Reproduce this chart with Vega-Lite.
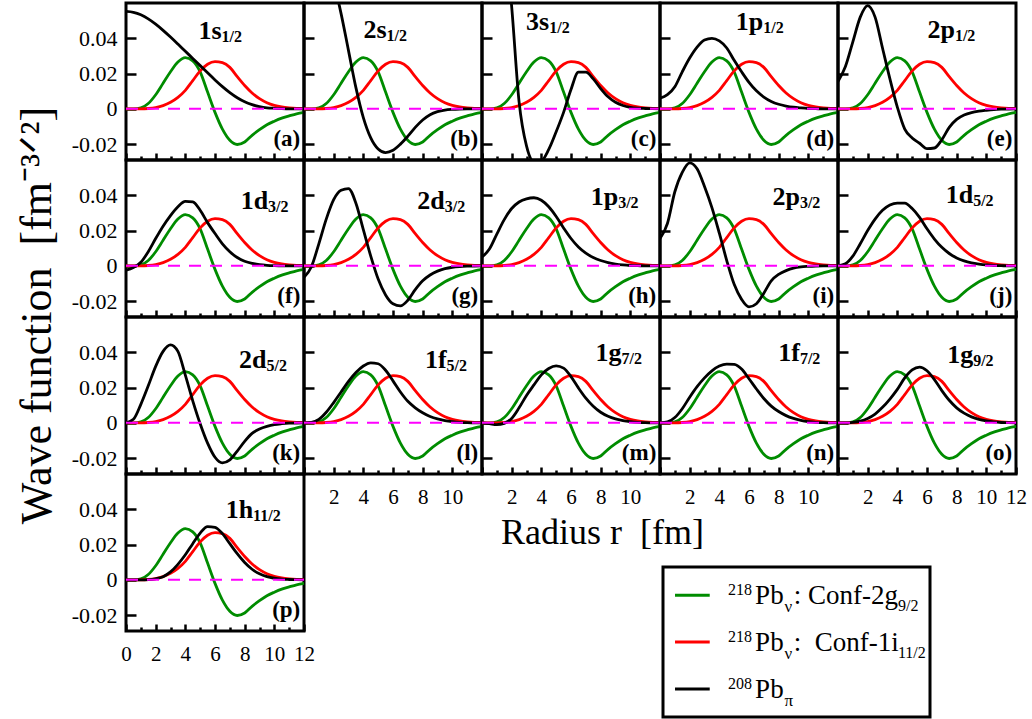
{
"padding":{"left":13,"top":1,"right":2,"bottom":2},
"config":{"font":"Liberation Serif, Times New Roman, Times, serif","view":{"stroke":"#000000","strokeWidth":3},
"axis":{"domain":false,"grid":false,"tickColor":"#000000","tickWidth":2.5,"labelColor":"#000000","labelFont":"Liberation Serif, Times New Roman, Times, serif","titleColor":"#000000","titleFont":"Liberation Serif, Times New Roman, Times, serif","titleFontWeight":"normal"},
"axisX":{"labelFontSize":21},"axisY":{"labelFontSize":22},
"line":{"strokeWidth":2.8,"interpolate":"monotone"},
"text":{"baseline":"alphabetic","color":"#000000","font":"Liberation Serif, Times New Roman, Times, serif"}},
"datasets":{
"wf":[
{"r":0,"G":0,"R":0,"a":0.0552,"b":0.105,"c":0.15,"d":0.006,"e":0.0155,"f":-0.0025,"g":-0.0065,"h":0.005,"i":0.0155,"j":0,"k":0,"l":0,"m":0,"n":0,"o":0,"p":0},
{"r":0.5,"G":0,"R":0,"a":0.0547,"b":0.103,"c":0.145,"d":0.008,"e":0.024,"f":-0.001,"g":-0.0005,"h":0.0095,"i":0.024,"j":0.0012,"k":0.002,"l":0.0003,"m":-0.0005,"n":0.0005,"o":0,"p":0},
{"r":1,"G":0.0005,"R":0,"a":0.0533,"b":0.097,"c":0.13,"d":0.0125,"e":0.038,"f":0.002,"g":0.0125,"h":0.018,"i":0.042,"j":0.0055,"k":0.0105,"l":0.002,"m":-0.001,"n":0.003,"o":0.0003,"p":0},
{"r":1.5,"G":0.003,"R":0.0002,"a":0.051,"b":0.087,"c":0.1,"d":0.021,"e":0.052,"f":0.008,"g":0.0265,"h":0.0262,"i":0.053,"j":0.0125,"k":0.021,"l":0.006,"m":-0.0003,"n":0.008,"o":0.001,"p":0.0001},
{"r":2,"G":0.008,"R":0.0007,"a":0.048,"b":0.072,"c":0.058,"d":0.0288,"e":0.0585,"f":0.0155,"g":0.0375,"h":0.0325,"i":0.0584,"j":0.02,"k":0.032,"l":0.0115,"m":0.0025,"n":0.0145,"o":0.0025,"p":0.0006},
{"r":2.5,"G":0.0145,"R":0.0018,"a":0.0445,"b":0.054,"c":0.004,"d":0.035,"e":0.052,"f":0.0225,"g":0.0428,"h":0.0362,"i":0.055,"j":0.0265,"k":0.0405,"l":0.0175,"m":0.0085,"n":0.0205,"o":0.005,"p":0.0018},
{"r":3,"G":0.021,"R":0.0037,"a":0.0407,"b":0.033,"c":-0.021,"d":0.039,"e":0.0345,"f":0.0285,"g":0.0438,"h":0.038,"i":0.045,"j":0.0315,"k":0.0442,"l":0.0235,"m":0.0155,"n":0.0255,"o":0.0088,"p":0.0045},
{"r":3.5,"G":0.0265,"R":0.0065,"a":0.0367,"b":0.012,"c":-0.03,"d":0.04,"e":0.017,"f":0.0335,"g":0.0355,"h":0.0386,"i":0.033,"j":0.0345,"k":0.0405,"l":0.0285,"m":0.0215,"n":0.0295,"o":0.0135,"p":0.0088},
{"r":4,"G":0.029,"R":0.0105,"a":0.0326,"b":-0.005,"c":-0.0295,"d":0.0385,"e":0.001,"f":0.0365,"g":0.0205,"h":0.0372,"i":0.0185,"j":0.0356,"k":0.027,"l":0.0322,"m":0.0272,"n":0.0322,"o":0.019,"p":0.0142},
{"r":4.5,"G":0.0272,"R":0.016,"a":0.0286,"b":-0.0165,"c":-0.023,"d":0.0345,"e":-0.0115,"f":0.0362,"g":0.0055,"h":0.0335,"i":0.003,"j":0.0355,"k":0.0125,"l":0.034,"m":0.0308,"n":0.0333,"o":0.0255,"p":0.0205},
{"r":5,"G":0.021,"R":0.0215,"a":0.0245,"b":-0.0228,"c":-0.013,"d":0.0275,"e":-0.0165,"f":0.0315,"g":-0.0075,"h":0.028,"i":-0.0105,"j":0.0325,"k":-0.0005,"l":0.0335,"m":0.0323,"n":0.0331,"o":0.03,"p":0.0265},
{"r":5.5,"G":0.0095,"R":0.0253,"a":0.0204,"b":-0.0248,"c":-0.002,"d":0.021,"e":-0.0195,"f":0.0245,"g":-0.0165,"h":0.0215,"i":-0.019,"j":0.0275,"k":-0.0115,"l":0.0298,"m":0.031,"n":0.0305,"o":0.0316,"p":0.0302},
{"r":6,"G":-0.002,"R":0.0268,"a":0.0164,"b":-0.0235,"c":0.011,"d":0.015,"e":-0.0225,"f":0.0183,"g":-0.0215,"h":0.0155,"i":-0.0233,"j":0.021,"k":-0.0195,"l":0.0238,"m":0.0262,"n":0.025,"o":0.0295,"p":0.0298},
{"r":6.5,"G":-0.0115,"R":0.0262,"a":0.0126,"b":-0.02,"c":0.0208,"d":0.0102,"e":-0.0222,"f":0.0125,"g":-0.0227,"h":0.0107,"i":-0.0215,"j":0.0152,"k":-0.0227,"l":0.0175,"m":0.0198,"n":0.0192,"o":0.0245,"p":0.0262},
{"r":7,"G":-0.0178,"R":0.0235,"a":0.0092,"b":-0.0155,"c":0.0208,"d":0.0067,"e":-0.0175,"f":0.008,"g":-0.0195,"h":0.0072,"i":-0.0155,"j":0.0105,"k":-0.021,"l":0.0122,"m":0.014,"n":0.0138,"o":0.0183,"p":0.0205},
{"r":7.5,"G":-0.0202,"R":0.0182,"a":0.0063,"b":-0.0105,"c":0.017,"d":0.0042,"e":-0.0105,"f":0.0047,"g":-0.0135,"h":0.0047,"i":-0.0085,"j":0.007,"k":-0.016,"l":0.0085,"m":0.0094,"n":0.0095,"o":0.0128,"p":0.0148},
{"r":8,"G":-0.0188,"R":0.0132,"a":0.004,"b":-0.0063,"c":0.0115,"d":0.0026,"e":-0.006,"f":0.0026,"g":-0.0085,"h":0.003,"i":-0.0048,"j":0.0045,"k":-0.0105,"l":0.0057,"m":0.006,"n":0.0064,"o":0.0085,"p":0.0098},
{"r":8.5,"G":-0.015,"R":0.009,"a":0.0024,"b":-0.0033,"c":0.0068,"d":0.0016,"e":-0.0035,"f":0.0014,"g":-0.0052,"h":0.0018,"i":-0.0027,"j":0.0028,"k":-0.006,"l":0.0036,"m":0.0037,"n":0.0041,"o":0.0055,"p":0.006},
{"r":9,"G":-0.0118,"R":0.0058,"a":0.0013,"b":-0.0016,"c":0.0037,"d":0.0009,"e":-0.0021,"f":0.0007,"g":-0.003,"h":0.001,"i":-0.0013,"j":0.0017,"k":-0.0035,"l":0.0022,"m":0.0022,"n":0.0025,"o":0.0034,"p":0.0034},
{"r":9.5,"G":-0.009,"R":0.0035,"a":0.0006,"b":-0.0007,"c":0.0019,"d":0.0005,"e":-0.0013,"f":0.0003,"g":-0.0016,"h":0.0005,"i":-0.0006,"j":0.001,"k":-0.002,"l":0.0013,"m":0.0013,"n":0.0014,"o":0.002,"p":0.0018},
{"r":10,"G":-0.007,"R":0.002,"a":0.0003,"b":-0.0003,"c":0.0009,"d":0.0002,"e":-0.0008,"f":0.0001,"g":-0.0008,"h":0.0002,"i":-0.0003,"j":0.0005,"k":-0.001,"l":0.0007,"m":0.0007,"n":0.0007,"o":0.0011,"p":0.0009},
{"r":10.5,"G":-0.0053,"R":0.0011,"a":0.0001,"b":-0.0001,"c":0.0004,"d":0.0001,"e":-0.0004,"f":0,"g":-0.0004,"h":0.0001,"i":-0.0001,"j":0.0002,"k":-0.0005,"l":0.0003,"m":0.0003,"n":0.0003,"o":0.0005,"p":0.0004},
{"r":11,"G":-0.004,"R":0.0006,"a":0,"b":0,"c":0.0002,"d":0,"e":-0.0002,"f":0,"g":-0.0002,"h":0,"i":0,"j":0.0001,"k":-0.0002,"l":0.0001,"m":0.0001,"n":0.0001,"o":0.0002,"p":0.0002},
{"r":11.5,"G":-0.0028,"R":0.0003,"a":0,"b":0,"c":0.0001,"d":0,"e":-0.0001,"f":0,"g":-0.0001,"h":0,"i":0,"j":0,"k":-0.0001,"l":0,"m":0,"n":0,"o":0.0001,"p":0.0001},
{"r":12,"G":-0.002,"R":0.0002,"a":0,"b":0,"c":0,"d":0,"e":0,"f":0,"g":0,"h":0,"i":0,"j":0,"k":0,"l":0,"m":0,"n":0,"o":0,"p":0}
],
"leg":[
{"k":"g","sup":"218","pb":"Pb","s1":"ν","mid":": Conf-2g","s2":"9/2"},
{"k":"r","sup":"218","pb":"Pb","s1":"ν","mid":":\u00a0 Conf-1i","s2":"11/2"},
{"k":"b","sup":"208","pb":"Pb","s1":"π","mid":"","s2":""}
]},
"spacing":157,"bounds":"flush",
"vconcat":[
{"spacing":0,"bounds":"flush","hconcat":[
{"width":178,"height":157,"data":{"name":"wf"},"encoding":{"x":{"field":"r","type":"quantitative","scale":{"domain":[0,12],"nice":false,"zero":false},"axis":{"values":[0,1,2,3,4,5,6,7,8,9,10,11,12],"labels":false,"title":null,"tickSize":{"condition":{"test":"datum.value % 2 == 0","value":-7},"value":-4}}}},"layer":[
{"mark":{"type":"line","color":"#008c00"},"encoding":{"y":{"field":"G","type":"quantitative","scale":{"domain":[-0.029,0.06],"nice":false,"zero":false},"axis":{"values":[-0.02,-0.01,0,0.01,0.02,0.03,0.04,0.05],"labelExpr":"abs(datum.value) < 0.001 ? '0' : (round(datum.value*100) % 2 == 0 ? replace(format(datum.value, '.2f'), '\u2212', '-') : '')","labelFont":"Liberation Serif","labelOverlap":false,"labelPadding":19,"title":null,"tickSize":{"condition":{"test":"round(datum.value*100) % 2 == 0","value":-10},"value":-6}}}}},
{"mark":{"type":"line","color":"#ff0000"},"encoding":{"y":{"field":"R","type":"quantitative"}}},
{"mark":{"type":"line","color":"#000000","clip":true},"encoding":{"y":{"field":"a","type":"quantitative"}}},
{"transform":[{"filter":"datum.r == 0"}],"mark":{"type":"rule","color":"#ff00ff","strokeDash":[12,9],"strokeWidth":2},"encoding":{"x":{"datum":0},"x2":{"datum":12},"y":{"datum":0}}},
{"transform":[{"filter":"datum.r == 0"}],"mark":{"type":"text","align":"right","fontWeight":"bold","fontSize":26},"encoding":{"x":{"datum":6.44},"y":{"datum":0.0394},"text":{"value":"1s"}}},
{"transform":[{"filter":"datum.r == 0"}],"mark":{"type":"text","align":"left","fontWeight":"bold","fontSize":16,"dy":3},"encoding":{"x":{"datum":6.44},"y":{"datum":0.0394},"text":{"value":"1/2"}}},
{"transform":[{"filter":"datum.r == 0"}],"mark":{"type":"text","align":"right","fontWeight":"bold","fontSize":23},"encoding":{"x":{"datum":11.75},"y":{"datum":-0.0208},"text":{"value":"(a)"}}}]},
{"width":178,"height":157,"data":{"name":"wf"},"encoding":{"x":{"field":"r","type":"quantitative","scale":{"domain":[0,12],"nice":false,"zero":false},"axis":{"values":[0,1,2,3,4,5,6,7,8,9,10,11,12],"labels":false,"title":null,"tickSize":{"condition":{"test":"datum.value % 2 == 0","value":-7},"value":-4}}}},"layer":[
{"mark":{"type":"line","color":"#008c00"},"encoding":{"y":{"field":"G","type":"quantitative","scale":{"domain":[-0.029,0.06],"nice":false,"zero":false},"axis":{"values":[-0.02,-0.01,0,0.01,0.02,0.03,0.04,0.05],"labels":false,"title":null,"tickSize":{"condition":{"test":"round(datum.value*100) % 2 == 0","value":-10},"value":-6}}}}},
{"mark":{"type":"line","color":"#ff0000"},"encoding":{"y":{"field":"R","type":"quantitative"}}},
{"mark":{"type":"line","color":"#000000","clip":true},"encoding":{"y":{"field":"b","type":"quantitative"}}},
{"transform":[{"filter":"datum.r == 0"}],"mark":{"type":"rule","color":"#ff00ff","strokeDash":[12,9],"strokeWidth":2},"encoding":{"x":{"datum":0},"x2":{"datum":12},"y":{"datum":0}}},
{"transform":[{"filter":"datum.r == 0"}],"mark":{"type":"text","align":"right","fontWeight":"bold","fontSize":26},"encoding":{"x":{"datum":5.57},"y":{"datum":0.04},"text":{"value":"2s"}}},
{"transform":[{"filter":"datum.r == 0"}],"mark":{"type":"text","align":"left","fontWeight":"bold","fontSize":16,"dy":3},"encoding":{"x":{"datum":5.57},"y":{"datum":0.04},"text":{"value":"1/2"}}},
{"transform":[{"filter":"datum.r == 0"}],"mark":{"type":"text","align":"right","fontWeight":"bold","fontSize":23},"encoding":{"x":{"datum":11.75},"y":{"datum":-0.0208},"text":{"value":"(b)"}}}]},
{"width":178,"height":157,"data":{"name":"wf"},"encoding":{"x":{"field":"r","type":"quantitative","scale":{"domain":[0,12],"nice":false,"zero":false},"axis":{"values":[0,1,2,3,4,5,6,7,8,9,10,11,12],"labels":false,"title":null,"tickSize":{"condition":{"test":"datum.value % 2 == 0","value":-7},"value":-4}}}},"layer":[
{"mark":{"type":"line","color":"#008c00"},"encoding":{"y":{"field":"G","type":"quantitative","scale":{"domain":[-0.029,0.06],"nice":false,"zero":false},"axis":{"values":[-0.02,-0.01,0,0.01,0.02,0.03,0.04,0.05],"labels":false,"title":null,"tickSize":{"condition":{"test":"round(datum.value*100) % 2 == 0","value":-10},"value":-6}}}}},
{"mark":{"type":"line","color":"#ff0000"},"encoding":{"y":{"field":"R","type":"quantitative"}}},
{"mark":{"type":"line","color":"#000000","clip":true},"encoding":{"y":{"field":"c","type":"quantitative"}}},
{"transform":[{"filter":"datum.r == 0"}],"mark":{"type":"rule","color":"#ff00ff","strokeDash":[12,9],"strokeWidth":2},"encoding":{"x":{"datum":0},"x2":{"datum":12},"y":{"datum":0}}},
{"transform":[{"filter":"datum.r == 0"}],"mark":{"type":"text","align":"right","fontWeight":"bold","fontSize":26},"encoding":{"x":{"datum":4.53},"y":{"datum":0.0445},"text":{"value":"3s"}}},
{"transform":[{"filter":"datum.r == 0"}],"mark":{"type":"text","align":"left","fontWeight":"bold","fontSize":16,"dy":3},"encoding":{"x":{"datum":4.53},"y":{"datum":0.0445},"text":{"value":"1/2"}}},
{"transform":[{"filter":"datum.r == 0"}],"mark":{"type":"text","align":"right","fontWeight":"bold","fontSize":23},"encoding":{"x":{"datum":11.75},"y":{"datum":-0.0208},"text":{"value":"(c)"}}}]},
{"width":178,"height":157,"data":{"name":"wf"},"encoding":{"x":{"field":"r","type":"quantitative","scale":{"domain":[0,12],"nice":false,"zero":false},"axis":{"values":[0,1,2,3,4,5,6,7,8,9,10,11,12],"labels":false,"title":null,"tickSize":{"condition":{"test":"datum.value % 2 == 0","value":-7},"value":-4}}}},"layer":[
{"mark":{"type":"line","color":"#008c00"},"encoding":{"y":{"field":"G","type":"quantitative","scale":{"domain":[-0.029,0.06],"nice":false,"zero":false},"axis":{"values":[-0.02,-0.01,0,0.01,0.02,0.03,0.04,0.05],"labels":false,"title":null,"tickSize":{"condition":{"test":"round(datum.value*100) % 2 == 0","value":-10},"value":-6}}}}},
{"mark":{"type":"line","color":"#ff0000"},"encoding":{"y":{"field":"R","type":"quantitative"}}},
{"mark":{"type":"line","color":"#000000","clip":true},"encoding":{"y":{"field":"d","type":"quantitative"}}},
{"transform":[{"filter":"datum.r == 0"}],"mark":{"type":"rule","color":"#ff00ff","strokeDash":[12,9],"strokeWidth":2},"encoding":{"x":{"datum":0},"x2":{"datum":12},"y":{"datum":0}}},
{"transform":[{"filter":"datum.r == 0"}],"mark":{"type":"text","align":"right","fontWeight":"bold","fontSize":26},"encoding":{"x":{"datum":6.96},"y":{"datum":0.0445},"text":{"value":"1p"}}},
{"transform":[{"filter":"datum.r == 0"}],"mark":{"type":"text","align":"left","fontWeight":"bold","fontSize":16,"dy":3},"encoding":{"x":{"datum":6.96},"y":{"datum":0.0445},"text":{"value":"1/2"}}},
{"transform":[{"filter":"datum.r == 0"}],"mark":{"type":"text","align":"right","fontWeight":"bold","fontSize":23},"encoding":{"x":{"datum":11.75},"y":{"datum":-0.0208},"text":{"value":"(d)"}}}]},
{"width":178,"height":157,"data":{"name":"wf"},"encoding":{"x":{"field":"r","type":"quantitative","scale":{"domain":[0,12],"nice":false,"zero":false},"axis":{"values":[0,1,2,3,4,5,6,7,8,9,10,11,12],"labels":false,"title":null,"tickSize":{"condition":{"test":"datum.value % 2 == 0","value":-7},"value":-4}}}},"layer":[
{"mark":{"type":"line","color":"#008c00"},"encoding":{"y":{"field":"G","type":"quantitative","scale":{"domain":[-0.029,0.06],"nice":false,"zero":false},"axis":{"values":[-0.02,-0.01,0,0.01,0.02,0.03,0.04,0.05],"labels":false,"title":null,"tickSize":{"condition":{"test":"round(datum.value*100) % 2 == 0","value":-10},"value":-6}}}}},
{"mark":{"type":"line","color":"#ff0000"},"encoding":{"y":{"field":"R","type":"quantitative"}}},
{"mark":{"type":"line","color":"#000000","clip":true},"encoding":{"y":{"field":"e","type":"quantitative"}}},
{"transform":[{"filter":"datum.r == 0"}],"mark":{"type":"rule","color":"#ff00ff","strokeDash":[12,9],"strokeWidth":2},"encoding":{"x":{"datum":0},"x2":{"datum":12},"y":{"datum":0}}},
{"transform":[{"filter":"datum.r == 0"}],"mark":{"type":"text","align":"right","fontWeight":"bold","fontSize":26},"encoding":{"x":{"datum":7.88},"y":{"datum":0.0403},"text":{"value":"2p"}}},
{"transform":[{"filter":"datum.r == 0"}],"mark":{"type":"text","align":"left","fontWeight":"bold","fontSize":16,"dy":3},"encoding":{"x":{"datum":7.88},"y":{"datum":0.0403},"text":{"value":"1/2"}}},
{"transform":[{"filter":"datum.r == 0"}],"mark":{"type":"text","align":"right","fontWeight":"bold","fontSize":23},"encoding":{"x":{"datum":11.75},"y":{"datum":-0.0208},"text":{"value":"(e)"}}}]}
]},
{"spacing":0,"bounds":"flush","hconcat":[
{"width":178,"height":157,"data":{"name":"wf"},"encoding":{"x":{"field":"r","type":"quantitative","scale":{"domain":[0,12],"nice":false,"zero":false},"axis":{"values":[0,1,2,3,4,5,6,7,8,9,10,11,12],"labels":false,"title":null,"tickSize":{"condition":{"test":"datum.value % 2 == 0","value":-7},"value":-4}}}},"layer":[
{"mark":{"type":"line","color":"#008c00"},"encoding":{"y":{"field":"G","type":"quantitative","scale":{"domain":[-0.029,0.06],"nice":false,"zero":false},"axis":{"values":[-0.02,-0.01,0,0.01,0.02,0.03,0.04,0.05],"labelExpr":"abs(datum.value) < 0.001 ? '0' : (round(datum.value*100) % 2 == 0 ? replace(format(datum.value, '.2f'), '\u2212', '-') : '')","labelFont":"Liberation Serif","labelOverlap":false,"labelPadding":19,"title":"Wave function\u00a0 [fm⁻³ᐟ²]","titleFont":"Liberation Serif","titleFontSize":44,"titleX":-76,"titleY":155,"titleAngle":-90,"titleAlign":"center","titleBaseline":"alphabetic","tickSize":{"condition":{"test":"round(datum.value*100) % 2 == 0","value":-10},"value":-6}}}}},
{"mark":{"type":"line","color":"#ff0000"},"encoding":{"y":{"field":"R","type":"quantitative"}}},
{"mark":{"type":"line","color":"#000000","clip":true},"encoding":{"y":{"field":"f","type":"quantitative"}}},
{"transform":[{"filter":"datum.r == 0"}],"mark":{"type":"rule","color":"#ff00ff","strokeDash":[12,9],"strokeWidth":2},"encoding":{"x":{"datum":0},"x2":{"datum":12},"y":{"datum":0}}},
{"transform":[{"filter":"datum.r == 0"}],"mark":{"type":"text","align":"right","fontWeight":"bold","fontSize":26},"encoding":{"x":{"datum":9.58},"y":{"datum":0.032},"text":{"value":"1d"}}},
{"transform":[{"filter":"datum.r == 0"}],"mark":{"type":"text","align":"left","fontWeight":"bold","fontSize":16,"dy":3},"encoding":{"x":{"datum":9.58},"y":{"datum":0.032},"text":{"value":"3/2"}}},
{"transform":[{"filter":"datum.r == 0"}],"mark":{"type":"text","align":"right","fontWeight":"bold","fontSize":23},"encoding":{"x":{"datum":11.75},"y":{"datum":-0.0208},"text":{"value":"(f)"}}}]},
{"width":178,"height":157,"data":{"name":"wf"},"encoding":{"x":{"field":"r","type":"quantitative","scale":{"domain":[0,12],"nice":false,"zero":false},"axis":{"values":[0,1,2,3,4,5,6,7,8,9,10,11,12],"labels":false,"title":null,"tickSize":{"condition":{"test":"datum.value % 2 == 0","value":-7},"value":-4}}}},"layer":[
{"mark":{"type":"line","color":"#008c00"},"encoding":{"y":{"field":"G","type":"quantitative","scale":{"domain":[-0.029,0.06],"nice":false,"zero":false},"axis":{"values":[-0.02,-0.01,0,0.01,0.02,0.03,0.04,0.05],"labels":false,"title":null,"tickSize":{"condition":{"test":"round(datum.value*100) % 2 == 0","value":-10},"value":-6}}}}},
{"mark":{"type":"line","color":"#ff0000"},"encoding":{"y":{"field":"R","type":"quantitative"}}},
{"mark":{"type":"line","color":"#000000","clip":true},"encoding":{"y":{"field":"g","type":"quantitative"}}},
{"transform":[{"filter":"datum.r == 0"}],"mark":{"type":"rule","color":"#ff00ff","strokeDash":[12,9],"strokeWidth":2},"encoding":{"x":{"datum":0},"x2":{"datum":12},"y":{"datum":0}}},
{"transform":[{"filter":"datum.r == 0"}],"mark":{"type":"text","align":"right","fontWeight":"bold","fontSize":26},"encoding":{"x":{"datum":9.49},"y":{"datum":0.032},"text":{"value":"2d"}}},
{"transform":[{"filter":"datum.r == 0"}],"mark":{"type":"text","align":"left","fontWeight":"bold","fontSize":16,"dy":3},"encoding":{"x":{"datum":9.49},"y":{"datum":0.032},"text":{"value":"3/2"}}},
{"transform":[{"filter":"datum.r == 0"}],"mark":{"type":"text","align":"right","fontWeight":"bold","fontSize":23},"encoding":{"x":{"datum":11.75},"y":{"datum":-0.0208},"text":{"value":"(g)"}}}]},
{"width":178,"height":157,"data":{"name":"wf"},"encoding":{"x":{"field":"r","type":"quantitative","scale":{"domain":[0,12],"nice":false,"zero":false},"axis":{"values":[0,1,2,3,4,5,6,7,8,9,10,11,12],"labels":false,"title":null,"tickSize":{"condition":{"test":"datum.value % 2 == 0","value":-7},"value":-4}}}},"layer":[
{"mark":{"type":"line","color":"#008c00"},"encoding":{"y":{"field":"G","type":"quantitative","scale":{"domain":[-0.029,0.06],"nice":false,"zero":false},"axis":{"values":[-0.02,-0.01,0,0.01,0.02,0.03,0.04,0.05],"labels":false,"title":null,"tickSize":{"condition":{"test":"round(datum.value*100) % 2 == 0","value":-10},"value":-6}}}}},
{"mark":{"type":"line","color":"#ff0000"},"encoding":{"y":{"field":"R","type":"quantitative"}}},
{"mark":{"type":"line","color":"#000000","clip":true},"encoding":{"y":{"field":"h","type":"quantitative"}}},
{"transform":[{"filter":"datum.r == 0"}],"mark":{"type":"rule","color":"#ff00ff","strokeDash":[12,9],"strokeWidth":2},"encoding":{"x":{"datum":0},"x2":{"datum":12},"y":{"datum":0}}},
{"transform":[{"filter":"datum.r == 0"}],"mark":{"type":"text","align":"right","fontWeight":"bold","fontSize":26},"encoding":{"x":{"datum":9.18},"y":{"datum":0.0345},"text":{"value":"1p"}}},
{"transform":[{"filter":"datum.r == 0"}],"mark":{"type":"text","align":"left","fontWeight":"bold","fontSize":16,"dy":3},"encoding":{"x":{"datum":9.18},"y":{"datum":0.0345},"text":{"value":"3/2"}}},
{"transform":[{"filter":"datum.r == 0"}],"mark":{"type":"text","align":"right","fontWeight":"bold","fontSize":23},"encoding":{"x":{"datum":11.75},"y":{"datum":-0.0208},"text":{"value":"(h)"}}}]},
{"width":178,"height":157,"data":{"name":"wf"},"encoding":{"x":{"field":"r","type":"quantitative","scale":{"domain":[0,12],"nice":false,"zero":false},"axis":{"values":[0,1,2,3,4,5,6,7,8,9,10,11,12],"labels":false,"title":null,"tickSize":{"condition":{"test":"datum.value % 2 == 0","value":-7},"value":-4}}}},"layer":[
{"mark":{"type":"line","color":"#008c00"},"encoding":{"y":{"field":"G","type":"quantitative","scale":{"domain":[-0.029,0.06],"nice":false,"zero":false},"axis":{"values":[-0.02,-0.01,0,0.01,0.02,0.03,0.04,0.05],"labels":false,"title":null,"tickSize":{"condition":{"test":"round(datum.value*100) % 2 == 0","value":-10},"value":-6}}}}},
{"mark":{"type":"line","color":"#ff0000"},"encoding":{"y":{"field":"R","type":"quantitative"}}},
{"mark":{"type":"line","color":"#000000","clip":true},"encoding":{"y":{"field":"i","type":"quantitative"}}},
{"transform":[{"filter":"datum.r == 0"}],"mark":{"type":"rule","color":"#ff00ff","strokeDash":[12,9],"strokeWidth":2},"encoding":{"x":{"datum":0},"x2":{"datum":12},"y":{"datum":0}}},
{"transform":[{"filter":"datum.r == 0"}],"mark":{"type":"text","align":"right","fontWeight":"bold","fontSize":26},"encoding":{"x":{"datum":9.43},"y":{"datum":0.0345},"text":{"value":"2p"}}},
{"transform":[{"filter":"datum.r == 0"}],"mark":{"type":"text","align":"left","fontWeight":"bold","fontSize":16,"dy":3},"encoding":{"x":{"datum":9.43},"y":{"datum":0.0345},"text":{"value":"3/2"}}},
{"transform":[{"filter":"datum.r == 0"}],"mark":{"type":"text","align":"right","fontWeight":"bold","fontSize":23},"encoding":{"x":{"datum":11.75},"y":{"datum":-0.0208},"text":{"value":"(i)"}}}]},
{"width":178,"height":157,"data":{"name":"wf"},"encoding":{"x":{"field":"r","type":"quantitative","scale":{"domain":[0,12],"nice":false,"zero":false},"axis":{"values":[0,1,2,3,4,5,6,7,8,9,10,11,12],"labels":false,"title":null,"tickSize":{"condition":{"test":"datum.value % 2 == 0","value":-7},"value":-4}}}},"layer":[
{"mark":{"type":"line","color":"#008c00"},"encoding":{"y":{"field":"G","type":"quantitative","scale":{"domain":[-0.029,0.06],"nice":false,"zero":false},"axis":{"values":[-0.02,-0.01,0,0.01,0.02,0.03,0.04,0.05],"labels":false,"title":null,"tickSize":{"condition":{"test":"round(datum.value*100) % 2 == 0","value":-10},"value":-6}}}}},
{"mark":{"type":"line","color":"#ff0000"},"encoding":{"y":{"field":"R","type":"quantitative"}}},
{"mark":{"type":"line","color":"#000000","clip":true},"encoding":{"y":{"field":"j","type":"quantitative"}}},
{"transform":[{"filter":"datum.r == 0"}],"mark":{"type":"rule","color":"#ff00ff","strokeDash":[12,9],"strokeWidth":2},"encoding":{"x":{"datum":0},"x2":{"datum":12},"y":{"datum":0}}},
{"transform":[{"filter":"datum.r == 0"}],"mark":{"type":"text","align":"right","fontWeight":"bold","fontSize":26},"encoding":{"x":{"datum":9.11},"y":{"datum":0.0358},"text":{"value":"1d"}}},
{"transform":[{"filter":"datum.r == 0"}],"mark":{"type":"text","align":"left","fontWeight":"bold","fontSize":16,"dy":3},"encoding":{"x":{"datum":9.11},"y":{"datum":0.0358},"text":{"value":"5/2"}}},
{"transform":[{"filter":"datum.r == 0"}],"mark":{"type":"text","align":"right","fontWeight":"bold","fontSize":23},"encoding":{"x":{"datum":11.75},"y":{"datum":-0.0208},"text":{"value":"(j)"}}}]}
]},
{"spacing":0,"bounds":"flush","hconcat":[
{"width":178,"height":157,"data":{"name":"wf"},"encoding":{"x":{"field":"r","type":"quantitative","scale":{"domain":[0,12],"nice":false,"zero":false},"axis":{"values":[0,1,2,3,4,5,6,7,8,9,10,11,12],"labels":false,"title":null,"tickSize":{"condition":{"test":"datum.value % 2 == 0","value":-7},"value":-4}}}},"layer":[
{"mark":{"type":"line","color":"#008c00"},"encoding":{"y":{"field":"G","type":"quantitative","scale":{"domain":[-0.029,0.06],"nice":false,"zero":false},"axis":{"values":[-0.02,-0.01,0,0.01,0.02,0.03,0.04,0.05],"labelExpr":"abs(datum.value) < 0.001 ? '0' : (round(datum.value*100) % 2 == 0 ? replace(format(datum.value, '.2f'), '\u2212', '-') : '')","labelFont":"Liberation Serif","labelOverlap":false,"labelPadding":19,"title":null,"tickSize":{"condition":{"test":"round(datum.value*100) % 2 == 0","value":-10},"value":-6}}}}},
{"mark":{"type":"line","color":"#ff0000"},"encoding":{"y":{"field":"R","type":"quantitative"}}},
{"mark":{"type":"line","color":"#000000","clip":true},"encoding":{"y":{"field":"k","type":"quantitative"}}},
{"transform":[{"filter":"datum.r == 0"}],"mark":{"type":"rule","color":"#ff00ff","strokeDash":[12,9],"strokeWidth":2},"encoding":{"x":{"datum":0},"x2":{"datum":12},"y":{"datum":0}}},
{"transform":[{"filter":"datum.r == 0"}],"mark":{"type":"text","align":"right","fontWeight":"bold","fontSize":26},"encoding":{"x":{"datum":9.47},"y":{"datum":0.0312},"text":{"value":"2d"}}},
{"transform":[{"filter":"datum.r == 0"}],"mark":{"type":"text","align":"left","fontWeight":"bold","fontSize":16,"dy":3},"encoding":{"x":{"datum":9.47},"y":{"datum":0.0312},"text":{"value":"5/2"}}},
{"transform":[{"filter":"datum.r == 0"}],"mark":{"type":"text","align":"right","fontWeight":"bold","fontSize":23},"encoding":{"x":{"datum":11.75},"y":{"datum":-0.0208},"text":{"value":"(k)"}}}]},
{"width":178,"height":157,"data":{"name":"wf"},"encoding":{"x":{"field":"r","type":"quantitative","scale":{"domain":[0,12],"nice":false,"zero":false},"axis":{"values":[0,1,2,3,4,5,6,7,8,9,10,11,12],"labelExpr":"datum.value % 2 == 0 && datum.value > 0 && datum.value < 12 ? datum.label : ''","labelFont":"Liberation Serif","labelFlush":false,"labelOverlap":false,"labelPadding":19,"title":null,"tickSize":{"condition":{"test":"datum.value % 2 == 0","value":-7},"value":-4}}}},"layer":[
{"mark":{"type":"line","color":"#008c00"},"encoding":{"y":{"field":"G","type":"quantitative","scale":{"domain":[-0.029,0.06],"nice":false,"zero":false},"axis":{"values":[-0.02,-0.01,0,0.01,0.02,0.03,0.04,0.05],"labels":false,"title":null,"tickSize":{"condition":{"test":"round(datum.value*100) % 2 == 0","value":-10},"value":-6}}}}},
{"mark":{"type":"line","color":"#ff0000"},"encoding":{"y":{"field":"R","type":"quantitative"}}},
{"mark":{"type":"line","color":"#000000","clip":true},"encoding":{"y":{"field":"l","type":"quantitative"}}},
{"transform":[{"filter":"datum.r == 0"}],"mark":{"type":"rule","color":"#ff00ff","strokeDash":[12,9],"strokeWidth":2},"encoding":{"x":{"datum":0},"x2":{"datum":12},"y":{"datum":0}}},
{"transform":[{"filter":"datum.r == 0"}],"mark":{"type":"text","align":"right","fontWeight":"bold","fontSize":26},"encoding":{"x":{"datum":9.61},"y":{"datum":0.0312},"text":{"value":"1f"}}},
{"transform":[{"filter":"datum.r == 0"}],"mark":{"type":"text","align":"left","fontWeight":"bold","fontSize":16,"dy":3},"encoding":{"x":{"datum":9.61},"y":{"datum":0.0312},"text":{"value":"5/2"}}},
{"transform":[{"filter":"datum.r == 0"}],"mark":{"type":"text","align":"right","fontWeight":"bold","fontSize":23},"encoding":{"x":{"datum":11.75},"y":{"datum":-0.0208},"text":{"value":"(l)"}}}]},
{"width":178,"height":157,"data":{"name":"wf"},"encoding":{"x":{"field":"r","type":"quantitative","scale":{"domain":[0,12],"nice":false,"zero":false},"axis":{"values":[0,1,2,3,4,5,6,7,8,9,10,11,12],"labelExpr":"datum.value % 2 == 0 && datum.value > 0 && datum.value < 12 ? datum.label : ''","labelFont":"Liberation Serif","labelFlush":false,"labelOverlap":false,"labelPadding":19,"title":"Radius r\u00a0 [fm]","titleFont":"Liberation Serif","titleFontSize":36,"titleX":120,"titleY":69,"titleAlign":"center","titleBaseline":"alphabetic","tickSize":{"condition":{"test":"datum.value % 2 == 0","value":-7},"value":-4}}}},"layer":[
{"mark":{"type":"line","color":"#008c00"},"encoding":{"y":{"field":"G","type":"quantitative","scale":{"domain":[-0.029,0.06],"nice":false,"zero":false},"axis":{"values":[-0.02,-0.01,0,0.01,0.02,0.03,0.04,0.05],"labels":false,"title":null,"tickSize":{"condition":{"test":"round(datum.value*100) % 2 == 0","value":-10},"value":-6}}}}},
{"mark":{"type":"line","color":"#ff0000"},"encoding":{"y":{"field":"R","type":"quantitative"}}},
{"mark":{"type":"line","color":"#000000","clip":true},"encoding":{"y":{"field":"m","type":"quantitative"}}},
{"transform":[{"filter":"datum.r == 0"}],"mark":{"type":"rule","color":"#ff00ff","strokeDash":[12,9],"strokeWidth":2},"encoding":{"x":{"datum":0},"x2":{"datum":12},"y":{"datum":0}}},
{"transform":[{"filter":"datum.r == 0"}],"mark":{"type":"text","align":"right","fontWeight":"bold","fontSize":26},"encoding":{"x":{"datum":9.41},"y":{"datum":0.035},"text":{"value":"1g"}}},
{"transform":[{"filter":"datum.r == 0"}],"mark":{"type":"text","align":"left","fontWeight":"bold","fontSize":16,"dy":3},"encoding":{"x":{"datum":9.41},"y":{"datum":0.035},"text":{"value":"7/2"}}},
{"transform":[{"filter":"datum.r == 0"}],"mark":{"type":"text","align":"right","fontWeight":"bold","fontSize":23},"encoding":{"x":{"datum":11.75},"y":{"datum":-0.0208},"text":{"value":"(m)"}}}]},
{"width":178,"height":157,"data":{"name":"wf"},"encoding":{"x":{"field":"r","type":"quantitative","scale":{"domain":[0,12],"nice":false,"zero":false},"axis":{"values":[0,1,2,3,4,5,6,7,8,9,10,11,12],"labelExpr":"datum.value % 2 == 0 && datum.value > 0 && datum.value < 12 ? datum.label : ''","labelFont":"Liberation Serif","labelFlush":false,"labelOverlap":false,"labelPadding":19,"title":null,"tickSize":{"condition":{"test":"datum.value % 2 == 0","value":-7},"value":-4}}}},"layer":[
{"mark":{"type":"line","color":"#008c00"},"encoding":{"y":{"field":"G","type":"quantitative","scale":{"domain":[-0.029,0.06],"nice":false,"zero":false},"axis":{"values":[-0.02,-0.01,0,0.01,0.02,0.03,0.04,0.05],"labels":false,"title":null,"tickSize":{"condition":{"test":"round(datum.value*100) % 2 == 0","value":-10},"value":-6}}}}},
{"mark":{"type":"line","color":"#ff0000"},"encoding":{"y":{"field":"R","type":"quantitative"}}},
{"mark":{"type":"line","color":"#000000","clip":true},"encoding":{"y":{"field":"n","type":"quantitative"}}},
{"transform":[{"filter":"datum.r == 0"}],"mark":{"type":"rule","color":"#ff00ff","strokeDash":[12,9],"strokeWidth":2},"encoding":{"x":{"datum":0},"x2":{"datum":12},"y":{"datum":0}}},
{"transform":[{"filter":"datum.r == 0"}],"mark":{"type":"text","align":"right","fontWeight":"bold","fontSize":26},"encoding":{"x":{"datum":9.43},"y":{"datum":0.035},"text":{"value":"1f"}}},
{"transform":[{"filter":"datum.r == 0"}],"mark":{"type":"text","align":"left","fontWeight":"bold","fontSize":16,"dy":3},"encoding":{"x":{"datum":9.43},"y":{"datum":0.035},"text":{"value":"7/2"}}},
{"transform":[{"filter":"datum.r == 0"}],"mark":{"type":"text","align":"right","fontWeight":"bold","fontSize":23},"encoding":{"x":{"datum":11.75},"y":{"datum":-0.0208},"text":{"value":"(n)"}}}]},
{"width":178,"height":157,"data":{"name":"wf"},"encoding":{"x":{"field":"r","type":"quantitative","scale":{"domain":[0,12],"nice":false,"zero":false},"axis":{"values":[0,1,2,3,4,5,6,7,8,9,10,11,12],"labelExpr":"datum.value % 2 == 0 && datum.value > 0 ? datum.label : ''","labelFont":"Liberation Serif","labelFlush":false,"labelOverlap":false,"labelPadding":19,"title":null,"tickSize":{"condition":{"test":"datum.value % 2 == 0","value":-7},"value":-4}}}},"layer":[
{"mark":{"type":"line","color":"#008c00"},"encoding":{"y":{"field":"G","type":"quantitative","scale":{"domain":[-0.029,0.06],"nice":false,"zero":false},"axis":{"values":[-0.02,-0.01,0,0.01,0.02,0.03,0.04,0.05],"labels":false,"title":null,"tickSize":{"condition":{"test":"round(datum.value*100) % 2 == 0","value":-10},"value":-6}}}}},
{"mark":{"type":"line","color":"#ff0000"},"encoding":{"y":{"field":"R","type":"quantitative"}}},
{"mark":{"type":"line","color":"#000000","clip":true},"encoding":{"y":{"field":"o","type":"quantitative"}}},
{"transform":[{"filter":"datum.r == 0"}],"mark":{"type":"rule","color":"#ff00ff","strokeDash":[12,9],"strokeWidth":2},"encoding":{"x":{"datum":0},"x2":{"datum":12},"y":{"datum":0}}},
{"transform":[{"filter":"datum.r == 0"}],"mark":{"type":"text","align":"right","fontWeight":"bold","fontSize":26},"encoding":{"x":{"datum":9.11},"y":{"datum":0.034},"text":{"value":"1g"}}},
{"transform":[{"filter":"datum.r == 0"}],"mark":{"type":"text","align":"left","fontWeight":"bold","fontSize":16,"dy":3},"encoding":{"x":{"datum":9.11},"y":{"datum":0.034},"text":{"value":"9/2"}}},
{"transform":[{"filter":"datum.r == 0"}],"mark":{"type":"text","align":"right","fontWeight":"bold","fontSize":23},"encoding":{"x":{"datum":11.75},"y":{"datum":-0.0208},"text":{"value":"(o)"}}}]}
]},
{"spacing":359,"bounds":"flush","hconcat":[
{"width":178,"height":157,"data":{"name":"wf"},"encoding":{"x":{"field":"r","type":"quantitative","scale":{"domain":[0,12],"nice":false,"zero":false},"axis":{"values":[0,1,2,3,4,5,6,7,8,9,10,11,12],"labelExpr":"datum.value % 2 == 0 ? datum.label : ''","labelFont":"Liberation Serif","labelFlush":false,"labelOverlap":false,"labelPadding":19,"title":null,"tickSize":{"condition":{"test":"datum.value % 2 == 0","value":-7},"value":-4}}}},"layer":[
{"mark":{"type":"line","color":"#008c00"},"encoding":{"y":{"field":"G","type":"quantitative","scale":{"domain":[-0.029,0.06],"nice":false,"zero":false},"axis":{"values":[-0.02,-0.01,0,0.01,0.02,0.03,0.04,0.05],"labelExpr":"abs(datum.value) < 0.001 ? '0' : (round(datum.value*100) % 2 == 0 ? replace(format(datum.value, '.2f'), '\u2212', '-') : '')","labelFont":"Liberation Serif","labelOverlap":false,"labelPadding":19,"title":null,"tickSize":{"condition":{"test":"round(datum.value*100) % 2 == 0","value":-10},"value":-6}}}}},
{"mark":{"type":"line","color":"#ff0000"},"encoding":{"y":{"field":"R","type":"quantitative"}}},
{"mark":{"type":"line","color":"#000000","clip":true},"encoding":{"y":{"field":"p","type":"quantitative"}}},
{"transform":[{"filter":"datum.r == 0"}],"mark":{"type":"rule","color":"#ff00ff","strokeDash":[12,9],"strokeWidth":2},"encoding":{"x":{"datum":0},"x2":{"datum":12},"y":{"datum":0}}},
{"transform":[{"filter":"datum.r == 0"}],"mark":{"type":"text","align":"right","fontWeight":"bold","fontSize":26},"encoding":{"x":{"datum":8.57},"y":{"datum":0.0352},"text":{"value":"1h"}}},
{"transform":[{"filter":"datum.r == 0"}],"mark":{"type":"text","align":"left","fontWeight":"bold","fontSize":16,"dy":3},"encoding":{"x":{"datum":8.57},"y":{"datum":0.0352},"text":{"value":"11/2"}}},
{"transform":[{"filter":"datum.r == 0"}],"mark":{"type":"text","align":"right","fontWeight":"bold","fontSize":23},"encoding":{"x":{"datum":11.75},"y":{"datum":-0.0208},"text":{"value":"(p)"}}}]},
{"spacing":0,"bounds":"flush","vconcat":[
{"width":10,"height":93,"data":{"values":[]},"mark":"point","view":{"stroke":null}},
{"width":267,"height":150,"data":{"name":"leg"},"encoding":{"y":{"field":"k","type":"ordinal","scale":{"type":"point","domain":["g","r","b"],"padding":0.6},"axis":null}},"layer":[
{"mark":{"type":"rule","strokeWidth":3},"encoding":{"x":{"datum":0.45,"type":"quantitative","scale":{"domain":[0,10]},"axis":null},"x2":{"datum":1.75},"color":{"field":"k","type":"nominal","scale":{"domain":["g","r","b"],"range":["#008c00","#ff0000","#000000"]},"legend":null}}},
{"mark":{"type":"text","align":"left","fontSize":16,"dy":0},"encoding":{"x":{"datum":2.43,"axis":null},"text":{"field":"sup"}}},
{"mark":{"type":"text","align":"left","fontSize":27,"dy":9},"encoding":{"x":{"datum":3.45,"axis":null},"text":{"field":"pb"}}},
{"mark":{"type":"text","align":"left","fontSize":17,"dy":17},"encoding":{"x":{"datum":4.55,"axis":null},"text":{"field":"s1"}}},
{"mark":{"type":"text","align":"left","fontSize":27,"dy":9},"encoding":{"x":{"datum":4.9,"axis":null},"text":{"field":"mid"}}},
{"mark":{"type":"text","align":"left","fontSize":16,"dy":16},"encoding":{"x":{"datum":8.8,"axis":null},"text":{"field":"s2"}}}
]}
]}
]}
]
}
